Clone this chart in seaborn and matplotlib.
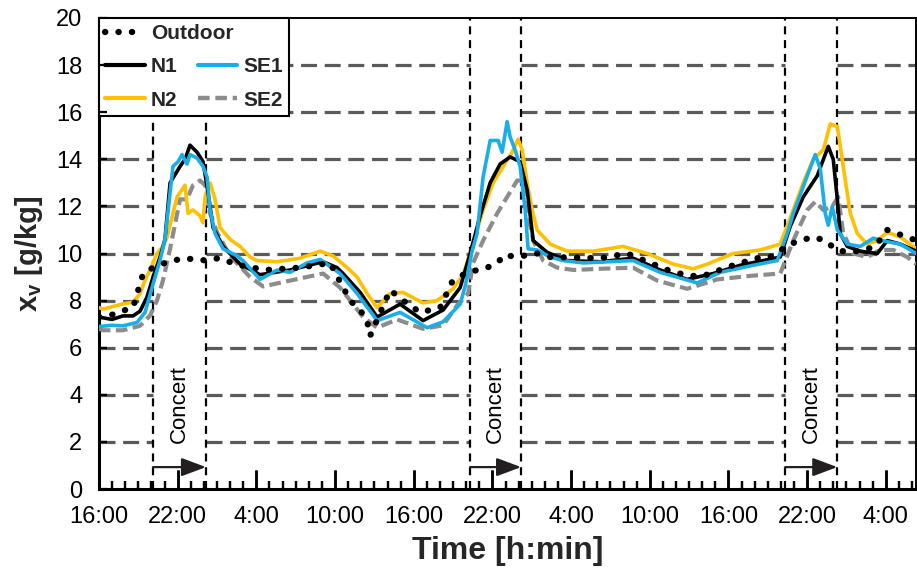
import matplotlib
matplotlib.use('Agg')
import matplotlib.pyplot as plt
import seaborn as sns
from matplotlib.lines import Line2D
from matplotlib.collections import LineCollection

# ---------------- data (time in hours since 16:00 of day 1) ----------------
tick_hours = [0, 6, 12, 18, 24, 30, 36, 42, 48, 54, 60]
tick_labels = ['16:00', '22:00', '4:00', '10:00', '16:00', '22:00',
               '4:00', '10:00', '16:00', '22:00', '4:00']
y_ticks = [0, 2, 4, 6, 8, 10, 12, 14, 16, 18, 20]
concert_start = [4.12, 28.30, 52.33]
concert_end = [8.16, 32.19, 56.30]

t_out = [0, 0.99, 1.83, 2.59, 3.36, 4.12, 5.03, 6.41, 7.32, 8.24, 9.08, 10.76, 12.66,
         15.33, 17.62, 19.15, 19.91, 20.44, 20.67, 22.20, 23.19, 24.49, 26.01, 26.93,
         27.77, 28.83, 29.60, 30.36, 30.97, 31.73, 32.34, 33.41, 34.40, 38.22, 40.28,
         43.79, 45.84, 48.36, 50.19, 51.18, 52.71, 53.47, 54.46, 55.38, 55.91, 56.52,
         58.05, 59.19, 60.11, 61.10, 62.32]
v_out = [7.3, 7.4, 7.57, 7.7, 9.14, 9.4, 9.6, 9.8, 9.75, 9.7, 9.8, 9.5, 9.3,
         9.4, 9.6, 8.0, 7.6, 7.15, 6.5, 8.45, 8.0, 7.5, 7.7, 8.8,
         9.1, 9.3, 9.4, 9.6, 9.95, 9.85, 9.9, 10.0, 9.85, 9.8, 10.0,
         9.2, 9.0, 9.5, 9.8, 9.85, 10.4, 10.55, 10.7, 10.55, 10.3, 10.1,
         10.1, 10.3, 11.0, 10.8, 10.55]

t_n1 = [0, 0.99, 1.83, 2.59, 3.13, 3.66, 4.12, 4.65, 5.03, 5.42, 6.18, 6.56, 6.94,
        7.48, 7.93, 8.31, 8.70, 9.46, 10.76, 12.28, 14.57, 17.09, 18.15, 18.61, 19.91,
        21.21, 22.96, 24.71, 26.24, 27.54, 28.30, 29.06, 29.83, 30.59, 31.35, 32.11,
        32.65, 33.11, 34.17, 35.70, 38.22, 40.73, 42.79, 44.85, 46.84, 48.90, 50.65,
        51.95, 52.71, 53.70, 54.77, 55.61, 55.99, 56.30, 56.52, 57.06, 58.05, 59.35,
        60.11, 61.10, 62.32]
v_n1 = [7.3, 7.2, 7.35, 7.35, 7.55, 8.15, 9.0, 9.85, 10.6, 13.0, 13.7, 14.0, 14.6,
        14.3, 13.9, 12.6, 11.1, 10.3, 9.55, 9.1, 9.3, 9.65, 9.4, 9.15, 8.35,
        7.3, 7.85, 7.15, 7.6, 8.55, 10.0, 11.6, 13.0, 13.8, 14.1, 13.9,
        12.7, 10.55, 10.05, 9.7, 9.65, 9.8, 9.3, 8.9, 9.15, 9.5, 9.7,
        9.85, 11.15, 12.4, 13.3, 14.55, 14.0, 12.3, 10.85, 10.3, 10.1, 10.0,
        10.55, 10.4, 10.1]

t_se1 = [0, 0.99, 1.83, 2.90, 3.51, 4.12, 4.65, 5.03, 5.64, 6.03, 6.33, 6.71, 6.94,
         7.48, 7.93, 8.24, 8.47, 8.85, 9.46, 10.53, 10.98, 12.28, 13.58, 14.57, 15.87,
         16.86, 18.38, 19.68, 21.21, 22.96, 25.02, 26.24, 27.54, 27.92, 28.45, 28.83,
         29.29, 29.83, 30.44, 30.74, 31.12, 31.35, 31.73, 32.11, 32.50, 32.72, 33.41,
         34.40, 35.39, 36.92, 40.73, 42.79, 45.62, 47.37, 49.89, 51.72, 52.48, 52.94,
         54.01, 54.62, 55.00, 55.38, 55.61, 55.91, 56.30, 57.06, 58.05, 59.04, 60.11,
         61.10, 62.32]
v_se1 = [6.9, 6.95, 6.93, 7.07, 7.5, 8.7, 9.7, 10.6, 13.7, 13.9, 14.2, 13.8, 14.2,
         14.05, 13.7, 13.25, 11.85, 10.85, 10.2, 9.9, 9.7, 8.9, 9.3, 9.2, 9.6,
         9.75, 9.15, 8.3, 7.15, 7.5, 6.85, 7.1, 7.85, 8.6, 10.1, 10.85,
         13.25, 14.8, 14.8, 14.3, 15.6, 14.95, 14.4, 13.7, 11.85, 10.2, 10.15,
         9.85, 9.7, 9.6, 9.7, 9.2, 8.75, 9.2, 9.5, 9.7, 10.85, 11.7,
         13.3, 14.2, 13.6, 11.7, 11.2, 12.0, 11.0, 10.4, 10.3, 10.65, 10.5,
         10.4, 10.0]

t_n2 = [0, 0.31, 1.83, 2.59, 3.13, 3.51, 3.89, 4.42, 4.88, 5.19, 5.95, 6.56, 6.79,
        7.17, 7.70, 7.93, 8.09, 8.47, 8.85, 9.23, 9.99, 10.76, 11.52, 12.05, 13.58,
        15.33, 16.86, 17.85, 18.92, 19.68, 20.44, 21.21, 22.20, 23.19, 24.71, 25.78,
        27.00, 27.77, 28.53, 29.29, 30.06, 30.82, 31.50, 31.96, 32.27, 32.65, 33.03,
        33.41, 34.40, 35.70, 37.68, 39.97, 41.80, 43.79, 45.31, 46.38, 48.36, 50.42,
        51.95, 52.94, 53.70, 54.46, 55.23, 55.76, 56.30, 56.75, 57.29, 57.82, 58.58,
        59.35, 60.11, 61.10, 62.32]
v_n2 = [7.7, 7.64, 7.86, 7.93, 8.3, 8.86, 9.3, 10.0, 10.3, 10.7, 12.4, 12.9, 11.7,
        11.85, 11.6, 11.3, 12.4, 13.0, 12.3, 11.1, 10.6, 10.3, 9.85, 9.7, 9.65,
        9.8, 10.1, 9.9, 9.4, 9.0, 8.3, 7.7, 8.3, 8.35, 7.9, 8.0,
        8.5, 9.1, 10.4, 11.85, 13.0, 13.7, 14.3, 14.85, 14.4, 13.0, 11.85,
        11.0, 10.4, 10.1, 10.1, 10.3, 10.0, 9.55, 9.35, 9.55, 10.0, 10.15,
        10.4, 11.85, 13.0, 14.0, 14.4, 15.5, 15.4, 13.7, 11.7, 10.85, 10.4,
        10.55, 10.9, 10.7, 10.2]

t_se2 = [0, 0.31, 1.83, 3.13, 3.89, 4.42, 4.88, 5.42, 6.18, 6.71, 7.17, 7.70, 8.09,
         8.47, 9.00, 9.99, 11.52, 12.51, 14.57, 17.09, 18.38, 20.14, 21.21, 22.73,
         24.71, 26.24, 27.31, 28.15, 28.53, 29.29, 30.36, 31.12, 31.89, 32.27, 32.65,
         33.11, 33.87, 34.94, 36.16, 38.22, 40.73, 42.56, 44.85, 47.14, 49.66, 51.95,
         52.94, 54.01, 54.62, 55.23, 55.91, 56.37, 56.75, 57.52, 58.58, 59.57, 60.57,
         61.63, 62.32]
v_se2 = [6.8, 6.74, 6.74, 6.93, 7.36, 8.0, 8.86, 10.2, 12.3, 12.3, 12.9, 13.1, 12.9,
         11.7, 10.9, 9.9, 9.0, 8.6, 8.85, 9.15, 8.55, 7.3, 6.85, 7.2,
         6.8, 6.95, 7.8, 8.3, 9.6, 10.55, 11.7, 12.4, 13.1, 13.1, 11.85,
         10.55, 9.7, 9.4, 9.3, 9.35, 9.4, 8.85, 8.5, 8.9, 9.05, 9.15,
         10.55, 11.85, 12.2, 11.85, 12.0, 12.4, 10.85, 10.0, 9.85, 10.15, 10.15,
         9.85, 9.55]

minor_hours = [h for h in range(0, 63) if h % 6 != 0]

# ---------------- style ----------------
sns.set_theme(style='ticks')
FONT = ['Liberation Sans', 'DejaVu Sans']
plt.rcParams['font.family'] = FONT
plt.rcParams['mathtext.fontset'] = 'custom'
plt.rcParams['mathtext.bf'] = 'Liberation Sans:bold'
plt.rcParams['mathtext.rm'] = 'Liberation Sans'

C_N1 = '#000000'
C_SE1 = '#1aaee8'
C_N2 = '#ffc000'
C_SE2 = '#8c8c8c'
C_GRID = '#5a5a5a'

fig = plt.figure(figsize=(9.17, 5.86), dpi=100)
ax = fig.add_axes([99 / 917, 1 - 489 / 586, (916 - 99) / 917, (489 - 18) / 586])

x_max = 62.3

# horizontal grid only outside the concert windows
seg_lo = [0] + concert_end
seg_hi = concert_start + [x_max]
for yv in y_ticks[1:-1]:
    for a, b in zip(seg_lo, seg_hi):
        ax.plot([a, b], [yv, yv], color=C_GRID, lw=2.3,
                linestyle=(0, (5.0, 2.4)), zorder=1, solid_capstyle='butt')

# concert windows
for s, e in zip(concert_start, concert_end):
    for xv in (s, e):
        ax.axvline(xv, color='black', lw=1.6, linestyle=(0, (3.6, 2.6)), zorder=2)
    ax.annotate('', xy=(e, 0.93), xytext=(s, 0.93),
                arrowprops=dict(arrowstyle='-|>,head_length=0.75,head_width=0.28',
                                color='#231f20', lw=1.6, mutation_scale=20,
                                shrinkA=0, shrinkB=0), zorder=3)
    ax.text((s + e) / 2, 3.6, 'Concert', rotation=90, ha='center', va='center',
            fontsize=16, color='black', family=FONT)

# series
sns.lineplot(x=t_se2, y=v_se2, ax=ax, color=C_SE2, linewidth=3.0,
             linestyle=(0, (2.8, 1.3)), zorder=4, estimator=None, sort=False)
sns.lineplot(x=t_n2, y=v_n2, ax=ax, color=C_N2, linewidth=2.6, zorder=5,
             estimator=None, sort=False)
sns.lineplot(x=t_n1, y=v_n1, ax=ax, color=C_N1, linewidth=2.6, zorder=6,
             estimator=None, sort=False)
sns.lineplot(x=t_se1, y=v_se1, ax=ax, color=C_SE1, linewidth=2.6, zorder=7,
             estimator=None, sort=False)
sns.lineplot(x=t_out, y=v_out, ax=ax, color='black', linewidth=4.5,
             linestyle=(0, (0.05, 2.1)), dash_capstyle='round', zorder=8,
             estimator=None, sort=False)

# axes styling
ax.set_xlim(0, x_max)
ax.set_ylim(0, 20)
ax.set_xticks(tick_hours)
ax.set_xticklabels(tick_labels)
ax.set_xticks(minor_hours, minor=True)
ax.set_yticks(y_ticks)
ax.tick_params(axis='x', which='major', direction='in', length=14, width=1.8,
               labelsize=17, pad=12, color='black', labelcolor='black')
ax.tick_params(axis='x', which='minor', direction='in', length=6, width=1.6,
               color='black')
ax.tick_params(axis='y', which='major', direction='in', length=6, width=1.6,
               labelsize=17, pad=12, color='black', labelcolor='black')

for side in ['left', 'bottom']:
    ax.spines[side].set_linewidth(2.2)
for side in ['top', 'right']:
    ax.spines[side].set_linewidth(1.4)
for sp in ax.spines.values():
    sp.set_color('black')

ax.set_xlabel('Time [h:min]', fontsize=23, fontweight='bold', labelpad=6)
ax.set_ylabel(r'$\mathbf{x_v}$ [g/kg]', fontsize=21, fontweight='bold', labelpad=8)

# legend
blank = Line2D([], [], alpha=0)
h_n1 = Line2D([], [], color=C_N1, lw=3)
h_n2 = Line2D([], [], color=C_N2, lw=3)
h_se1 = Line2D([], [], color=C_SE1, lw=3)
h_se2 = Line2D([], [], color=C_SE2, lw=3.2, linestyle=(0, (2.6, 1.3)))
h_out = Line2D([], [], color='black', lw=4.5, linestyle=(0, (0.05, 2.1)),
               dash_capstyle='round')
prop = dict(family='Liberation Sans', weight='bold', size=15)
common = dict(loc='upper left', bbox_to_anchor=(0, 1), borderaxespad=0,
              handlelength=1.9, handletextpad=0.3, borderpad=0.3,
              labelspacing=0.68, prop=prop)
leg1 = ax.legend([blank, h_n1, h_n2, blank, h_se1, h_se2],
                 [' ', 'N1', 'N2', ' ', 'SE1', 'SE2'], ncol=2,
                 columnspacing=0.95, frameon=True, fancybox=False,
                 edgecolor='black', framealpha=1, facecolor='white', **common)
leg1.get_frame().set_linewidth(1.5)
ax.add_artist(leg1)
leg2 = ax.legend([h_out], ['Outdoor'], frameon=False, **common)

# inward tick marks drawn on top at figure level (positions from the tick lists)
xt = ax.get_xaxis_transform()
yt = ax.get_yaxis_transform()
maj = LineCollection([[(h, 0), (h, 0.040)] for h in tick_hours], transform=xt,
                     colors='black', linewidths=1.8, zorder=50)
mnr = LineCollection([[(h, 0), (h, 0.017)] for h in minor_hours], transform=xt,
                     colors='black', linewidths=1.6, zorder=50)
ytk = LineCollection([[(0, v), (0.0095, v)] for v in y_ticks[1:-1]], transform=yt,
                     colors='black', linewidths=1.6, zorder=50)
for coll in (maj, mnr, ytk):
    fig.add_artist(coll)

fig.savefig('out.png', dpi=100)
